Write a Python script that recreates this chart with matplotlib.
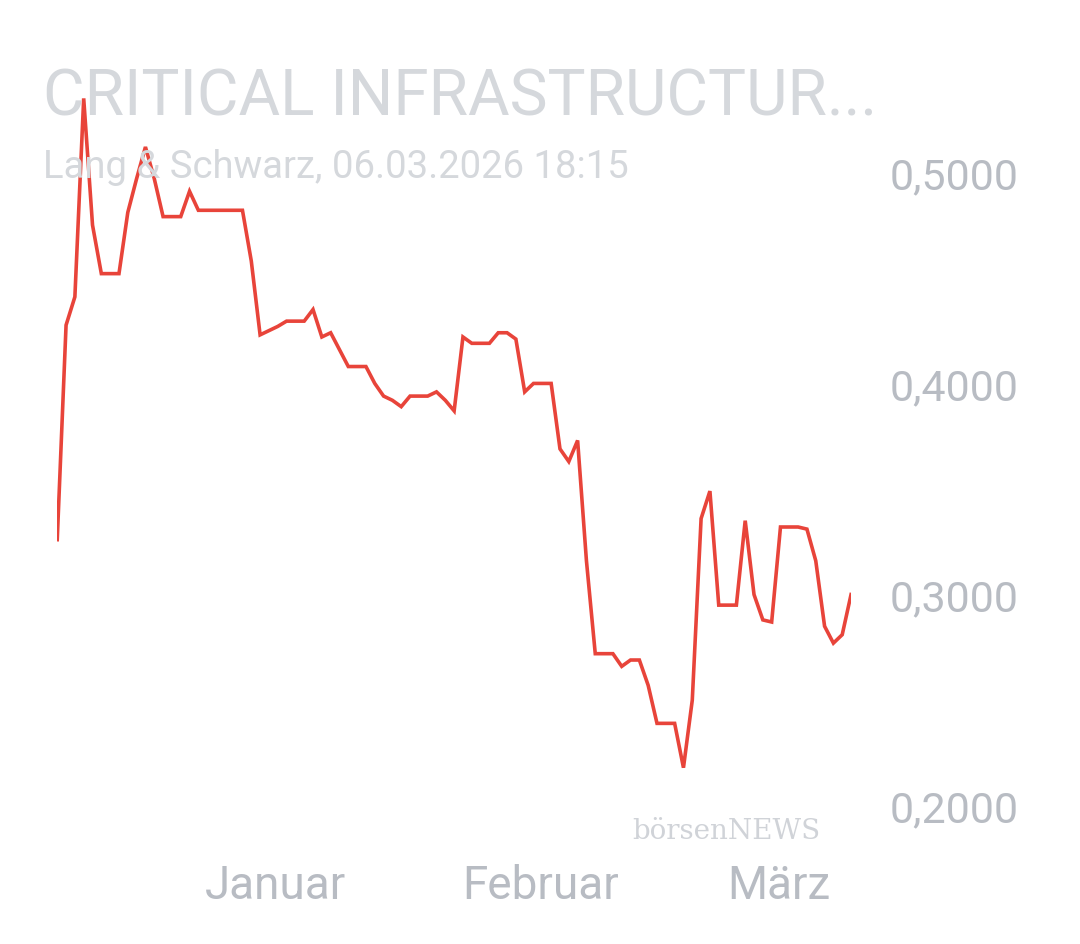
import matplotlib
matplotlib.use("Agg")
import matplotlib.pyplot as plt

values = [0.326,0.4276,0.441,0.535,0.475,0.452,0.452,0.452,0.481,0.497,0.512,0.497,0.479,0.479,0.479,0.491,0.482,0.482,0.482,0.482,0.482,0.482,
0.458,0.423,0.425,0.427,0.4295,0.4295,0.4295,0.435,0.422,0.424,0.416,0.408,0.408,0.408,0.400,0.394,0.392,0.389,0.394,0.394,0.394,0.396,0.392,0.387,
0.422,0.419,0.419,0.419,0.424,0.424,0.421,0.396,0.400,0.400,0.400,0.369,0.363,0.373,0.316,0.272,0.272,0.272,0.266,0.269,0.269,0.257,0.239,0.239,0.239,
0.218,0.250,0.336,0.349,0.295,0.295,0.295,0.335,0.300,0.288,0.287,0.332,0.332,0.332,0.331,0.316,0.285,0.277,0.281,0.300]
month_labels = ["Januar", "Februar", "März"]
month_pos = [24.8, 54.8, 81.8]
yticks = [0.2, 0.3, 0.4, 0.5]
ytick_labels = ["0,2000", "0,3000", "0,4000", "0,5000"]

plt.rcParams['font.family'] = ['Roboto', 'DejaVu Sans']
fig = plt.figure(figsize=(10.8, 9.45), dpi=100)
ax = fig.add_axes([0.053, 0.124, 0.735, 0.782])
ax.plot(range(len(values)), values, color="#e8443a", lw=2.6, solid_joinstyle="miter")
ax.set_xlim(0, len(values)-1)
ax.set_ylim(0.19, 0.54)
for s in ax.spines.values():
    s.set_visible(False)
ax.yaxis.tick_right()
ax.set_yticks(yticks, ytick_labels)
ax.set_xticks(month_pos, month_labels)
ax.tick_params(length=0, labelsize=31, colors="#b8bcc3")
ax.tick_params(axis='y', pad=28)
ax.tick_params(axis='x', pad=26, labelsize=33)
fig.text(0.04, 0.897, "CRITICAL INFRASTRUCTUR...", fontsize=46, color="#d5d8dc", va="center")
fig.text(0.04, 0.823, "Lang & Schwarz, 06.03.2026 18:15", fontsize=27.5, color="#d5d8dc", va="center")
fig.text(0.585, 0.12, "börsenNEWS", fontsize=20, color="#d0d3d8", family="DejaVu Serif", va="center")
fig.savefig("out.png")
